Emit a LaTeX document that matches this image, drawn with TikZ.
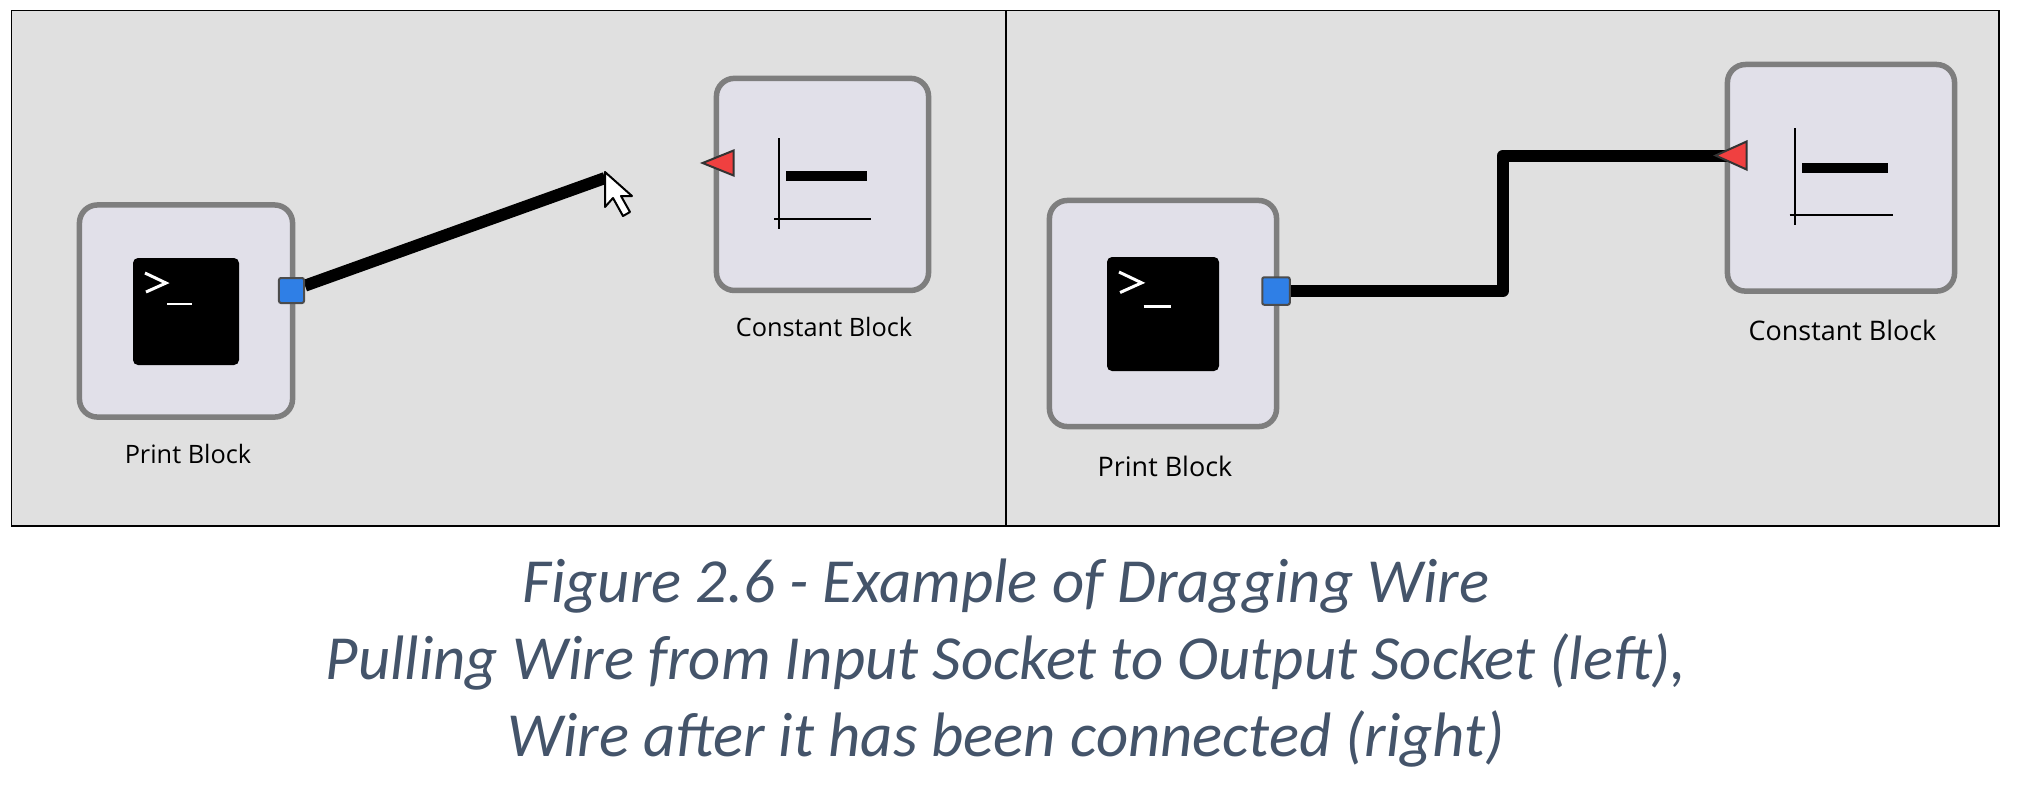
\documentclass[tikz,border=0pt]{standalone}
\usepackage{fontspec}
\setmainfont{Carlito}
\newfontfamily\guifont{Open Sans}
\usetikzlibrary{shapes.geometric}

\definecolor{panelbg}{HTML}{E0E0E0}
\definecolor{blockbg}{HTML}{E1E0E9}
\definecolor{blockedge}{HTML}{7E7E7E}
\definecolor{outblue}{HTML}{2F7FE6}
\definecolor{inred}{HTML}{F04040}
\definecolor{captionblue}{HTML}{44546A}

\pgfdeclarelayer{top}
\pgfsetlayers{main,top}

\tikzset{
  panel/.style={draw=black, fill=panelbg, line width=0.35pt},
  block/.style={draw=blockedge, fill=blockbg, line width=0.55mm, rounded corners=1.8mm, inner sep=0pt},
  wire/.style={line width=1.2mm, line join=round},
  outsock/.style={draw=black!70, fill=outblue, line width=0.2mm, inner sep=0pt, rounded corners=0.2mm},
  insock/.style={draw=black!80, fill=inred, line width=0.2mm, inner sep=0pt, isosceles triangle,
                 isosceles triangle stretches, shape border rotate=180, anchor=apex,
                 minimum height=0.31cm},
  blocklabel/.style={font=\guifont\fontsize{7.2}{8}\selectfont, text=black, inner sep=0pt},
  blocklabelbig/.style={blocklabel, font=\guifont\fontsize{7.66}{8}\selectfont},
  captiontext/.style={font=\itshape\fontsize{17.85}{21.9}\selectfont, text=captionblue, align=center, inner sep=0pt}
}

\begin{document}
\begin{tikzpicture}[x=0.01cm, y=-0.01cm]
  \useasboundingbox (0,0) rectangle (2020,787);

  \draw[panel] (11.5,10.5) rectangle (1006,526);
  \draw[panel] (1006,10.5) rectangle (1999,526);

  % blocks
  \node[block, minimum width=2.13cm, minimum height=2.12cm]  (printL) at (186,311)  {};
  \node[block, minimum width=2.12cm, minimum height=2.12cm]  (constL) at (822.5,184.4) {};
  \node[block, minimum width=2.27cm, minimum height=2.26cm]  (printR) at (1163,313.5) {};
  \node[block, minimum width=2.27cm, minimum height=2.265cm] (constR) at (1841,177.8) {};

  % print icons
  \foreach \x/\y/\w/\h/\s in {133/258/106/107/1, 1107/257/112/114/1.08}
  {
      \fill[rounded corners=0.05cm] (\x,\y) rectangle ++(\w,\h);
      \draw[white, line width=0.3mm] (\x+12,\y+15) -- ++(21*\s,10*\s) -- ++(-20*\s,9*\s);
      \draw[white, line width=0.25mm] (\x+34*\s,\y+46*\s) -- ++(25*\s,0);
  }

  % constant icons
  \foreach \x/\y/\s in {779/138.4/1, 1794.5/128/1.07}
  {
      \draw[line width=0.2mm] (\x,\y) -- ++(0,90.6*\s);
      \draw[line width=0.2mm] (\x-5,\y+81*\s) -- ++(97*\s,0);
      \fill (\x+7,\y+33*\s) rectangle ++(81*\s,9.5*\s);
  }

  % sockets and cursor
  \coordinate (tipL)  at (605,178);
  \coordinate (bendR) at (1503,155.5);
  \begin{pgfonlayer}{top}
    \node[outsock, minimum size=0.25cm]  (outL) at (291.5,290.5) {};
    \node[outsock, minimum size=0.275cm] (outR) at (1276,291)    {};
    \node[insock, minimum width=0.25cm] (inL) at (700,163)    {};
    \node[insock, minimum width=0.28cm] (inR) at (1713,155.5) {};
    \draw[fill=white, line width=0.2mm, line join=round]
      (605,172) -- (605,207) -- (613,198) -- (623,216) -- (630,212) -- (621,196) -- (632,196) -- cycle;
  \end{pgfonlayer}

  % wires
  \draw[wire] (outL) -- (tipL);
  \draw[wire] (outR) -| (bendR) -- (inR.center);

  % labels
  \node[blocklabel]    (printtxtL) at (188,454)    {Print Block};
  \node[blocklabel]    (consttxtL) at (824,327)    {Constant Block};
  \node[blocklabelbig] (printtxtR) at (1165,466)   {Print Block};
  \node[blocklabelbig] (consttxtR) at (1842.5,330) {Constant Block};

  \node[captiontext] (caption) at (1006,663)
    {Figure 2.6 - Example of Dragging Wire\\
     Pulling Wire from Input Socket to Output Socket (left),\\
     Wire after it has been connected (right)};
\end{tikzpicture}
\end{document}
